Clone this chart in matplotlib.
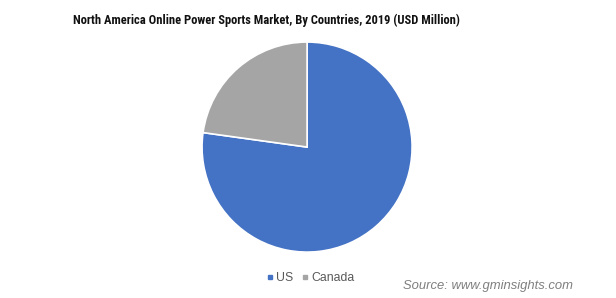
import matplotlib.pyplot as plt
from matplotlib.lines import Line2D

countries = ["US", "Canada"]
shares = [77.2, 22.8]
colors = ["#4472C4", "#A5A5A5"]

fig = plt.figure(figsize=(6.16, 2.98), dpi=100)
ax = fig.add_axes([0.328, 0.154, 0.341, 0.705])
ax.pie(shares, colors=colors, startangle=90, counterclock=False,
       wedgeprops={"edgecolor": "white", "linewidth": 1.2})
ax.set_xlim(-1.0, 1.0)
ax.set_ylim(-1.0, 1.0)
ax.set_aspect("equal")

fig.text(0.432, 0.932, "North America Online Power Sports Market, By Countries, 2019 (USD Million)",
         ha="center", va="center", fontsize=9, fontweight="bold",
         family="Roboto Condensed", color="#111111")

handles = [Line2D([], [], marker="s", linestyle="", markersize=3.5, color=c) for c in colors]
fig.legend(handles, countries, loc="center", bbox_to_anchor=(0.503, 0.067), ncol=2,
           frameon=False, handletextpad=0.1, columnspacing=0.6,
           handlelength=0.8, prop={"family": "Liberation Sans", "size": 8.8},
           labelcolor="#595959")

fig.text(0.931, 0.04, "Source: www.gminsights.com", ha="right", va="center",
         fontsize=9.4, style="italic", color="#7f7f7f", family="Liberation Sans")

fig.savefig("out.png", dpi=100)
